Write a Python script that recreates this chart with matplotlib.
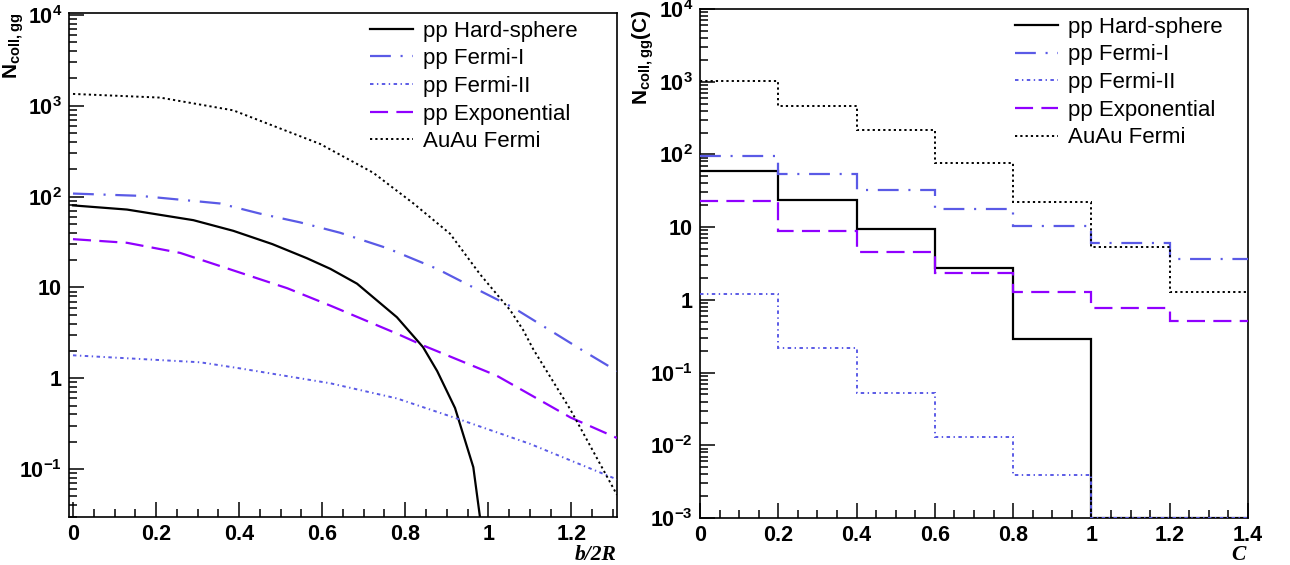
import numpy as np
import matplotlib
matplotlib.use("Agg")
import matplotlib.pyplot as plt
from matplotlib.ticker import MultipleLocator, LogLocator, FuncFormatter, NullFormatter

plt.rcParams['font.family'] = ['Liberation Sans', 'DejaVu Sans']
plt.rcParams['mathtext.fontset'] = 'custom'
plt.rcParams['mathtext.rm'] = 'Liberation Sans:bold'
plt.rcParams['mathtext.bf'] = 'Liberation Sans:bold'
plt.rcParams['mathtext.default'] = 'bf'
plt.rcParams['lines.scale_dashes'] = False

# left panel: N_coll,gg vs b/2R
hs_x = [0, 0.13, 0.29, 0.386, 0.48, 0.563, 0.62, 0.684, 0.78, 0.843, 0.877, 0.92, 0.964, 0.985]
hs_y = [80, 72, 55, 42, 30, 21, 16, 11, 4.7, 2.2, 1.2, 0.47, 0.105, 0.02]
f1_x = [0, 0.16, 0.354, 0.45, 0.547, 0.643, 0.757, 0.877, 0.964, 1.06, 1.229, 1.31]
f1_y = [108, 102, 84, 65, 52, 40, 27, 16, 10, 6, 2.0, 1.2]
f2_x = [0, 0.306, 0.4, 0.62, 0.78, 0.925, 1.10, 1.31]
f2_y = [1.79, 1.5, 1.29, 0.88, 0.6, 0.36, 0.19, 0.077]
ex_x = [0, 0.13, 0.258, 0.386, 0.516, 0.62, 0.78, 0.843, 1.02, 1.198, 1.31]
ex_y = [34, 31, 24, 15.4, 9.8, 6.3, 3.1, 2.3, 1.07, 0.37, 0.22]
au_x = [0, 0.21, 0.386, 0.595, 0.723, 0.82, 0.908, 0.98, 1.053, 1.084, 1.108, 1.198, 1.31]
au_y = [1350, 1230, 890, 380, 183, 84, 39, 14, 5.6, 3.4, 2.1, 0.45, 0.052]

# right panel: histograms in C
bin_edges = [0, 0.2, 0.4, 0.6, 0.8, 1.0, 1.2, 1.4]
hs_c = [59, 23.5, 9.5, 2.7, 0.29, 0, 0]
f1_c = [96, 54, 32, 18, 10.5, 6.0, 3.6]
f2_c = [1.2, 0.22, 0.052, 0.013, 0.0039, 0, 0]
ex_c = [23, 8.9, 4.6, 2.35, 1.28, 0.78, 0.51]
au_c = [1020, 470, 220, 76, 22, 5.3, 1.3]

labels = ["pp Hard-sphere", "pp Fermi-I", "pp Fermi-II", "pp Exponential", "AuAu Fermi"]
blue = '#5a5ae6'
purple = '#9000ff'
styles = [
    dict(color='black', lw=1.6, ls='-'),
    dict(color=blue, lw=1.6, ls=(0, (15, 7, 1.5, 7))),
    dict(color=blue, lw=1.4, ls=(0, (2.5, 2.5, 1, 2.5))),
    dict(color=purple, lw=1.6, ls=(0, (13, 6))),
    dict(color='black', lw=1.4, ls=(0, (1.6, 2.2))),
]


def ytick_fmt(v, pos):
    e = int(round(np.log10(v)))
    if e == 0:
        return '1'
    if e == 1:
        return '10'
    return r'$10^{%d}$' % e


def style_axes(ax):
    ax.set_yscale('log')
    ax.yaxis.set_major_locator(LogLocator(base=10, numticks=20))
    ax.yaxis.set_minor_locator(LogLocator(base=10, subs=np.arange(2, 10), numticks=20))
    ax.yaxis.set_major_formatter(FuncFormatter(ytick_fmt))
    ax.yaxis.set_minor_formatter(NullFormatter())
    ax.xaxis.set_major_locator(MultipleLocator(0.2))
    ax.xaxis.set_minor_locator(MultipleLocator(0.05))
    ax.xaxis.set_major_formatter(FuncFormatter(lambda v, p: '%g' % round(v, 2)))
    ax.tick_params(which='both', direction='in', top=False, right=False, width=1.1)
    ax.tick_params(which='major', length=11, labelsize=15.5, pad=5)
    ax.tick_params(which='minor', length=5.5)
    for lab in ax.get_xticklabels() + ax.get_yticklabels():
        lab.set_fontweight('bold')
    for s in ax.spines.values():
        s.set_linewidth(1.2)


fig = plt.figure(figsize=(12.9, 5.65), dpi=100)
ax1 = fig.add_axes([69 / 1290, 48 / 565, 548 / 1290, 504 / 565])
ax2 = fig.add_axes([700 / 1290, 47 / 565, 548 / 1290, 509 / 565])

leg_kw = dict(loc='upper left', frameon=False, fontsize=16, handlelength=1.95,
              handletextpad=0.45, labelspacing=0.3, borderpad=0, borderaxespad=0)

# left panel
xs = [hs_x, f1_x, f2_x, ex_x, au_x]
ys = [hs_y, f1_y, f2_y, ex_y, au_y]
for i in range(5):
    ax1.plot(xs[i], ys[i], label=labels[i], zorder=2 + i, **styles[i])
ax1.set_xlim(-0.0096, 1.31)
ax1.set_ylim(0.0297, 1.05e4)
style_axes(ax1)
ax1.set_ylabel(r'$\mathbf{N_{coll,gg}}$', fontsize=15, loc='top')
ax1.yaxis.set_label_coords(-0.078, 1.0)
ax1.legend(bbox_to_anchor=(0.549, 0.985), **leg_kw)

# right panel
ymin2 = 1e-3
hists = [hs_c, f1_c, f2_c, ex_c, au_c]
for i in range(5):
    vals = np.clip(np.array(hists[i], dtype=float), ymin2, None)
    ax2.stairs(vals, bin_edges, baseline=None, label=labels[i], zorder=2 + i, **styles[i])
ax2.set_xlim(0, 1.4)
ax2.set_ylim(ymin2, 1e4)
style_axes(ax2)
ax2.set_ylabel(r'$\mathbf{N_{coll,gg}(C)}$', fontsize=15, loc='top')
ax2.yaxis.set_label_coords(-0.08, 1.0)
ax2.legend(bbox_to_anchor=(0.575, 0.985), **leg_kw)

fig.text(617 / 1290, 1 - 560 / 565, 'b/2R', ha='right', va='baseline', fontsize=15.5,
         family='Liberation Serif', style='italic', weight='bold')
fig.text(1246 / 1290, 1 - 560 / 565, 'C', ha='right', va='baseline', fontsize=15.5,
         family='Liberation Serif', style='italic', weight='bold')

fig.savefig('out.png', dpi=100)
